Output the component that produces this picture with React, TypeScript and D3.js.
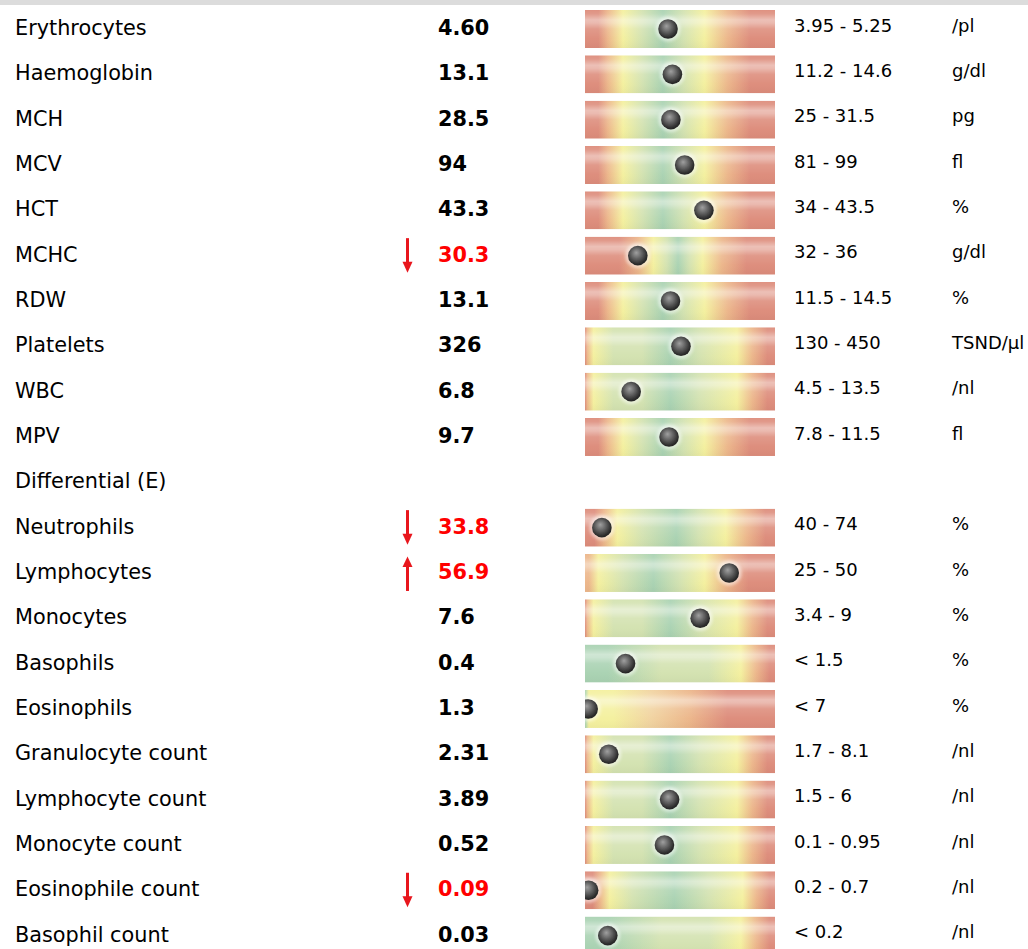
import React from "react";
import * as d3 from "d3";

// ---------- data ----------
const labels = [
  "Erythrocytes", "Haemoglobin", "MCH", "MCV", "HCT", "MCHC", "RDW", "Platelets", "WBC", "MPV",
  "Differential (E)",
  "Neutrophils", "Lymphocytes", "Monocytes", "Basophils", "Eosinophils",
  "Granulocyte count", "Lymphocyte count", "Monocyte count", "Eosinophile count", "Basophil count",
];
const values: (number | null)[] = [
  4.60, 13.1, 28.5, 94, 43.3, 30.3, 13.1, 326, 6.8, 9.7,
  null,
  33.8, 56.9, 7.6, 0.4, 1.3,
  2.31, 3.89, 0.52, 0.09, 0.03,
];
const decimals = [2, 1, 1, 0, 1, 1, 1, 0, 1, 1, 0, 1, 1, 1, 1, 1, 2, 2, 2, 2, 2];
const rangeLow: (number | null)[] = [
  3.95, 11.2, 25, 81, 34, 32, 11.5, 130, 4.5, 7.8,
  null,
  40, 25, 3.4, null, null,
  1.7, 1.5, 0.1, 0.2, null,
];
const rangeHigh: (number | null)[] = [
  5.25, 14.6, 31.5, 99, 43.5, 36, 14.5, 450, 13.5, 11.5,
  null,
  74, 50, 9, 1.5, 7,
  8.1, 6, 0.95, 0.7, 0.2,
];
const units = [
  "/pl", "g/dl", "pg", "fl", "%", "g/dl", "%", "TSND/µl", "/nl", "fl",
  "",
  "%", "%", "%", "%", "%",
  "/nl", "/nl", "/nl", "/nl", "/nl",
];
const gaugeKinds = [
  "sym", "sym", "sym", "sym", "sym", "narrow", "sym", "wide", "wide", "sym",
  "",
  "neut", "lymph", "wide", "upperGreen", "upperTight",
  "wide", "wide", "wide", "eosLow", "upperGreen",
];

// ---------- gauge styles ----------
const R = "#dd8c7b", O = "#ecb68a", Y = "#f4f09e", LG = "#d3e2b0", G = "#a9d2b2", P = "#f1d3a0";
type Kind = { stops: [number, string][]; pLow: number; pHigh: number };
const kinds: Record<string, Kind> = {
  sym: {
    stops: [[0, R], [0.07, R], [0.12, O], [0.2, Y], [0.3, LG], [0.41, G], [0.52, LG], [0.63, Y], [0.75, O], [0.87, R], [1, R]],
    pLow: 0.24, pHigh: 0.634,
  },
  narrow: {
    stops: [[0, R], [0.18, R], [0.28, O], [0.36, Y], [0.43, LG], [0.49, G], [0.55, LG], [0.62, Y], [0.72, O], [0.85, R], [1, R]],
    pLow: 0.38, pHigh: 0.62,
  },
  wide: {
    stops: [[0, R], [0.012, O], [0.045, Y], [0.15, LG], [0.3, LG], [0.45, G], [0.6, LG], [0.8, Y], [0.88, O], [0.96, R], [1, R]],
    pLow: 0.055, pHigh: 0.79,
  },
  neut: {
    stops: [[0, R], [0.05, R], [0.1, O], [0.17, Y], [0.3, LG], [0.48, G], [0.6, LG], [0.74, Y], [0.85, O], [0.95, R], [1, R]],
    pLow: 0.18, pHigh: 0.68,
  },
  lymph: {
    stops: [[0, O], [0.02, O], [0.07, Y], [0.2, LG], [0.36, G], [0.5, LG], [0.63, Y], [0.74, O], [0.86, R], [1, R]],
    pLow: 0.07, pHigh: 0.61,
  },
  eosLow: {
    stops: [[0, R], [0.04, R], [0.08, O], [0.13, Y], [0.25, LG], [0.47, G], [0.65, LG], [0.83, Y], [0.9, O], [0.97, R], [1, R]],
    pLow: 0.16, pHigh: 0.8,
  },
  upperGreen: {
    stops: [[0, G], [0.12, G], [0.4, LG], [0.65, LG], [0.82, Y], [0.9, O], [0.97, R], [1, R]],
    pLow: 0, pHigh: 0.8,
  },
  upperTight: {
    stops: [[0, G], [0.02, Y], [0.15, Y], [0.35, P], [0.55, O], [0.75, R], [1, R]],
    pLow: 0, pHigh: 0.09,
  },
};

// ---------- layout ----------
const W = 1028, H = 949;
const FONT = "'DejaVu Sans', Verdana, sans-serif";
const rowY = d3.scaleLinear().domain([0, labels.length - 1]).range([10, 10 + 20 * 45.33]);
const gaugeX = d3.scaleLinear().domain([0, 1]).range([585, 775]);
const BAR_H = 38;
const LABEL_X = 15, VALUE_X = 438, ARROW_X = 407.5, RANGE_X = 794, UNIT_X = 952;

function fmtRange(lo: number | null, hi: number | null) {
  if (hi == null) return "";
  return lo == null ? `< ${hi}` : `${lo} - ${hi}`;
}

export default function App() {
  const kindNames = Object.keys(kinds);
  return (
    <svg
      width={W}
      height={H}
      style={{ position: "absolute", left: 0, top: 0, background: "#fff" }}
      fontFamily={FONT}
    >
      <defs>
        {kindNames.map((k) => (
          <linearGradient key={k} id={`g-${k}`} x1="0" x2="1" y1="0" y2="0">
            {kinds[k].stops.map(([o, c], i) => (
              <stop key={i} offset={o} stopColor={c} />
            ))}
          </linearGradient>
        ))}
        <linearGradient id="shine" x1="0" x2="0" y1="0" y2="1">
          <stop offset="0" stopColor="#fff" stopOpacity={0.05} />
          <stop offset="0.1" stopColor="#fff" stopOpacity={0.12} />
          <stop offset="0.26" stopColor="#fff" stopOpacity={0.45} />
          <stop offset="0.34" stopColor="#fff" stopOpacity={0.4} />
          <stop offset="0.5" stopColor="#fff" stopOpacity={0.12} />
          <stop offset="0.75" stopColor="#fff" stopOpacity={0.02} />
          <stop offset="1" stopColor="#000" stopOpacity={0.03} />
        </linearGradient>
        <radialGradient id="ball" cx="0.45" cy="0.42" r="0.6" fx="0.42" fy="0.35">
          <stop offset="0" stopColor="#a0a0a0" />
          <stop offset="0.45" stopColor="#646464" />
          <stop offset="0.85" stopColor="#2e2e2e" />
          <stop offset="1" stopColor="#222" />
        </radialGradient>
        <filter id="glow" x="-50%" y="-50%" width="200%" height="200%">
          <feGaussianBlur stdDeviation="1.8" />
        </filter>
        <filter id="soft" x="-50%" y="-10%" width="200%" height="120%">
          <feGaussianBlur stdDeviation="0.4" />
        </filter>
        <filter id="bsoft" x="-20%" y="-20%" width="140%" height="140%">
          <feGaussianBlur stdDeviation="0.35" />
        </filter>
        {labels.map((_, i) => (
          <clipPath key={i} id={`clip-${i}`}>
            <rect x={gaugeX(0)} y={rowY(i)} width={gaugeX(1) - gaugeX(0)} height={BAR_H} />
          </clipPath>
        ))}
      </defs>

      <rect x={0} y={0} width={W} height={5} fill="#dcdcdc" />

      {labels.map((label, i) => {
        const top = rowY(i);
        const v = values[i];
        const lo = rangeLow[i];
        const hi = rangeHigh[i];
        const kind = kinds[gaugeKinds[i]];
        const isLow = v != null && lo != null && v < lo;
        const isHigh = v != null && hi != null && v > hi;
        const flagged = isLow || isHigh;
        let ballX = 0;
        if (v != null && kind && hi != null) {
          const s = d3
            .scaleLinear()
            .domain([lo ?? 0, hi])
            .range([gaugeX(kind.pLow), gaugeX(kind.pHigh)]);
          ballX = s(v);
        }
        const cy = top + BAR_H / 2;
        return (
          <g key={label}>
            <text x={LABEL_X} y={top + 25} fontSize={20.8} fill="#000">
              {label}
            </text>
            {v != null && (
              <>
                <text
                  x={VALUE_X}
                  y={top + 25}
                  fontSize={20.8}
                  fontWeight="bold"
                  fill={flagged ? "#ff0000" : "#000"}
                >
                  {v.toFixed(decimals[i])}
                </text>
                {isLow && (
                  <g fill="#e8161e" stroke="none" filter="url(#soft)">
                    <rect x={ARROW_X - 1.5} y={top + 1.5} width={3} height={25} />
                    <path
                      d={`M${ARROW_X - 5},${top + 25} L${ARROW_X + 5},${top + 25} L${ARROW_X},${top + 36} Z`}
                    />
                  </g>
                )}
                {isHigh && (
                  <g fill="#e8161e" stroke="none" filter="url(#soft)">
                    <rect x={ARROW_X - 1.5} y={top + 12} width={3} height={25} />
                    <path
                      d={`M${ARROW_X - 5},${top + 13} L${ARROW_X + 5},${top + 13} L${ARROW_X},${top + 2.5} Z`}
                    />
                  </g>
                )}
                <g clipPath={`url(#clip-${i})`}>
                  <rect
                    x={gaugeX(0)}
                    y={top}
                    width={gaugeX(1) - gaugeX(0)}
                    height={BAR_H}
                    fill={`url(#g-${gaugeKinds[i]})`}
                  />
                  <rect
                    x={gaugeX(0)}
                    y={top}
                    width={gaugeX(1) - gaugeX(0)}
                    height={BAR_H}
                    fill="url(#shine)"
                  />
                  <circle cx={ballX} cy={cy} r={12.5} fill="#fff" opacity={0.5} filter="url(#glow)" />
                  <circle cx={ballX} cy={cy} r={9.8} fill="url(#ball)" filter="url(#bsoft)" />
                </g>
                <text x={RANGE_X} y={top + 21.8} fontSize={18} fill="#000">
                  {fmtRange(lo, hi)}
                </text>
                <text x={UNIT_X} y={top + 21.8} fontSize={18} fill="#000">
                  {units[i]}
                </text>
              </>
            )}
          </g>
        );
      })}
    </svg>
  );
}
